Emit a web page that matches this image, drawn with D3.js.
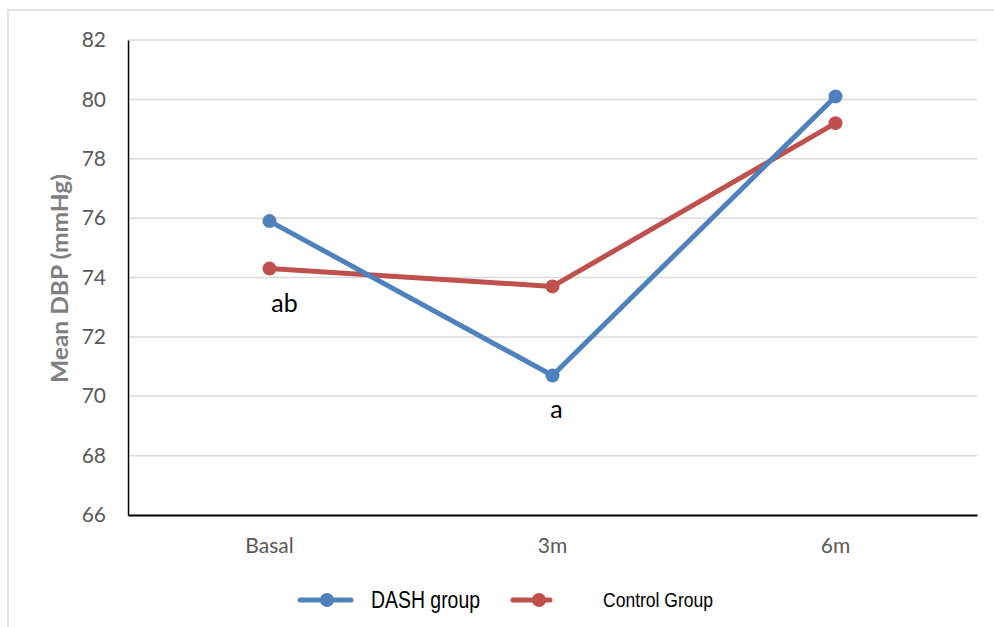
<!DOCTYPE html>
<html><head><meta charset="utf-8">
<script src="https://cdn.jsdelivr.net/npm/d3@7"></script>
<style>body{margin:0;background:#fff}svg{display:block}</style>
</head><body>
<script>
const categories = ["Basal", "3m", "6m"];
const dashValues = [75.9, 70.7, 80.1];
const controlValues = [74.3, 73.7, 79.2];
const yTicks = [66, 68, 70, 72, 74, 76, 78, 80, 82];
const seriesNames = ["DASH group", "Control Group"];
const annotations = [{cat: "Basal", value: 74.3, text: "ab"}, {cat: "3m", value: 70.7, text: "a"}];

const W = 994, H = 627;
const svg = d3.select("body").append("svg").attr("width", W).attr("height", H);
svg.append("rect").attr("x", 8).attr("y", 10).attr("width", W + 10).attr("height", H + 10)
  .attr("fill", "#fff").attr("stroke", "#d9d9d9").attr("stroke-width", 1.5);

const L = 128, R = 977, T = 40, B = 515;
const x = d3.scaleBand().domain(categories).range([L, R]);
const y = d3.scaleLinear().domain([66, 82]).range([B, T]);
const cx = c => x(c) + x.bandwidth() / 2;
const font = "Lato, 'Open Sans', sans-serif";

// gridlines
svg.append("g").selectAll("line").data(yTicks.filter(t => t > 66)).join("line")
  .attr("x1", L).attr("x2", R).attr("y1", d => y(d)).attr("y2", d => y(d))
  .attr("stroke", "#d9d9d9").attr("stroke-width", 1.5);

// axes
const yAxis = svg.append("g").attr("transform", `translate(${L},0)`)
  .call(d3.axisLeft(y).tickValues(yTicks).tickSize(0).tickPadding(22));
yAxis.select(".domain").attr("stroke", "#000").attr("stroke-width", 1.5);
yAxis.selectAll("text").attr("fill", "#595959").style("font-family", font).style("font-size", "21px");

const xAxis = svg.append("g").attr("transform", `translate(0,${B})`)
  .call(d3.axisBottom(x).tickSize(0).tickPadding(23));
xAxis.select(".domain").attr("stroke", "#000").attr("stroke-width", 2);
xAxis.selectAll("text").attr("fill", "#595959").style("font-family", font).style("font-size", "21px");

svg.append("text").attr("transform", `translate(68,${(T + B) / 2 + 1}) rotate(-90)`)
  .attr("text-anchor", "middle").attr("fill", "#7f7f7f").attr("font-weight", "bold")
  .style("font-family", font).style("font-size", "23px")
  .attr("textLength", 209).attr("lengthAdjust", "spacingAndGlyphs")
  .text("Mean DBP (mmHg)");

const colors = ["#4f81bd", "#c0504d"];
const series = [dashValues, controlValues];
const line = d3.line().x((d, i) => cx(categories[i])).y(d => y(d));
[1, 0].forEach(s => {
  svg.append("path").datum(series[s]).attr("d", line).attr("fill", "none")
    .attr("stroke", colors[s]).attr("stroke-width", 5).attr("stroke-linejoin", "round");
  svg.append("g").selectAll("circle").data(series[s]).join("circle")
    .attr("cx", (d, i) => cx(categories[i])).attr("cy", d => y(d)).attr("r", 7)
    .attr("fill", colors[s]);
});

// annotations
svg.append("g").selectAll("text").data(annotations).join("text")
  .attr("x", d => cx(d.cat) + (d.text === "ab" ? 15 : 4)).attr("y", d => y(d.value) + 43)
  .attr("text-anchor", "middle").attr("fill", "#000")
  .style("font-family", font).style("font-size", "25px")
  .text(d => d.text);

// legend
const leg = [{x1: 300, x2: 351, m: 327, tx: 371, fs: 23, tl: 109, by: 608}, {x1: 513, x2: 550, m: 539, tx: 603, fs: 19.5, tl: 110, by: 607}];
leg.forEach((l, i) => {
  svg.append("line").attr("x1", l.x1).attr("x2", l.x2).attr("y1", 600).attr("y2", 600)
    .attr("stroke", colors[i]).attr("stroke-width", 5).attr("stroke-linecap", "round");
  svg.append("circle").attr("cx", l.m).attr("cy", 600).attr("r", 7).attr("fill", colors[i]);
  svg.append("text").attr("x", l.tx).attr("y", l.by).attr("fill", "#000")
    .style("font-family", "'Liberation Sans', Arial, sans-serif")
    .style("font-size", l.fs + "px")
    .attr("textLength", l.tl).attr("lengthAdjust", "spacingAndGlyphs")
    .text(seriesNames[i]);
});
</script>
</body></html>
